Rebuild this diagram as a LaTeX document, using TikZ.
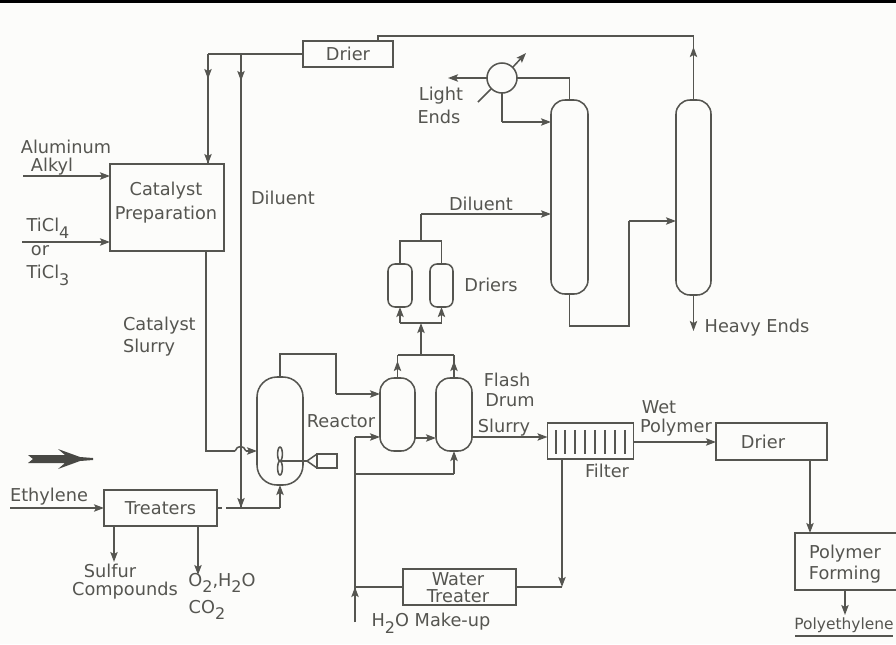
\documentclass[tikz,border=0pt]{standalone}
\usepackage{fontspec}
\setmainfont{DejaVu Sans}
\usetikzlibrary{arrows.meta,shapes.geometric}
\definecolor{ink}{HTML}{555550}
\definecolor{paper}{HTML}{FCFCFA}
\newcommand{\sbs}[1]{\raisebox{-0.7ex}{\fontsize{12}{14}\selectfont #1}}
\tikzset{
  x=0.75pt,y=-0.75pt,
  every node/.style={text=ink,font=\fontsize{13.3}{15}\selectfont,inner sep=0pt,outer sep=0pt},
  line/.style={draw=ink,line width=1.15pt},
  flow/.style={line,-{Stealth[length=7.5pt,width=5.5pt,inset=1.5pt]}},
  dims/.style 2 args={minimum width=#1*0.75pt,minimum height=#2*0.75pt},
  boxn/.style={line,rectangle},
  vessel/.style={line,rectangle,rounded corners=#1*0.75pt},
  blade/.style={line,ellipse,minimum width=3.6pt,minimum height=10.5pt},
}
\begin{document}
\begin{tikzpicture}
\useasboundingbox (0,0) rectangle (896,644);
\fill[paper] (0,0) rectangle (896,644);
\fill[black] (0,0) rectangle (896,3);
% boxes
\node[boxn,dims={90}{26}] (drierT) at (348,54) {Drier};
\node[boxn,dims={114}{87}] (cat) at (167,207.5) {};
\node (catL) at (166,203) [align=center] {Catalyst\\[3pt]Preparation};
\node[boxn,dims={113}{36}] (treat) at (160.5,508) {Treaters};
\node[boxn,dims={113}{36}] (water) at (459.5,587) {};
\node (waterL) at (458,587.5) [align=center] {Water\\[-2.2pt]Treater};
\node[boxn,dims={86}{36}] (filter) at (590.5,441) {};
\node[boxn,dims={111}{37}] (drierB) at (771.5,441.5) {};
\node (drierBL) at (763,442) {Drier};
\node[boxn,dims={102}{57}] (form) at (846,561.5) {};
\node (formL) at (845,564.5) [align=center] {Polymer\\[.7pt]Forming};
% vessels
\node[vessel=20,dims={46}{108}] (reactor) at (280,431) {};
\node[vessel=14,dims={35}{73}] (flashA) at (397.5,414.5) {};
\node[vessel=14,dims={36}{73}] (flashB) at (454,414.5) {};
\node[vessel=14,dims={37}{194}] (colA) at (569.5,197) {};
\node[vessel=14,dims={35}{195}] (colB) at (693.5,197.5) {};
\node[vessel=7,dims={24}{43}] (dryA) at (400,285.5) {};
\node[vessel=7,dims={23}{43}] (dryB) at (441.5,285.5) {};
\node[line,circle,minimum size=30*0.75pt] (hx) at (502,78) {};
% filter bars
\foreach \x in {556,565,575,585,595,605,615,625}
  \draw[line] (\x,430) -- (\x,454);
% impeller
\coordinate (shaft) at (280,461);
\coordinate (neck) at (307,461);
\node[boxn,dims={20}{14},anchor=west] (motor) at (317,461) {};
\draw[line] (shaft) -- (neck) -- (motor.north west);
\draw[line] (neck) -- (motor.south west);
\node[blade] (bladeA) at (280,454) {};
\node[blade] (bladeB) at (280,468) {};
% coordinates
\coordinate (alIn) at (23,176);
\coordinate (tiIn) at (22,242);
\coordinate (ethIn) at (10,508);
\coordinate (topL) at (208,54);
\coordinate (topM) at (241,54);
\coordinate (a1) at (208,79);
\coordinate (a2) at (241,81);
\coordinate (botM) at (241,508);
\coordinate (slU) at (206,251);
\coordinate (slD) at (206,451);
\coordinate (hopA) at (235,451);
\coordinate (hopB) at (246,451);
\coordinate (makeup) at (355,622);
\coordinate (mk) at (355,437);
\coordinate (mkA) at (355,474);
\coordinate (mkW) at (355,587);
% inputs
\draw[flow] (alIn) -- (alIn -| cat.west);
\draw[flow] (tiIn) -- (tiIn -| cat.west);
\draw[flow] (ethIn) -- (ethIn -| treat.west);
% top header
\draw[line] (drierT.west) -- (topL);
\draw[line] (topL) -- (topL |- cat.north);
\draw[flow] (topL) -- (a1);
\draw[flow] (a1) -- (a1 |- cat.north);
\draw[line] (topM) -- (botM);
\draw[flow] (topM) -- (a2);
\draw[flow] (a2) -- (botM);
% catalyst slurry
\draw[line] (slU) -- (slD) -- (hopA);
\draw[line] (hopA) .. controls (237,445) and (244,445) .. (hopB);
\draw[flow] (hopB) -- (hopB -| reactor.west);
% treaters out
\coordinate (tr0) at (222,508);
\draw[line] (treat.east) -- (tr0);
\coordinate (tr1) at (226,508);
\coordinate (tr2) at (280,508);
\draw[line] (tr1) -- (tr2);
\draw[flow] (tr2) -- (reactor.south);
\coordinate (s1) at (114,526);
\coordinate (s1e) at (114,562);
\draw[flow] (s1) -- (s1e);
\coordinate (s2) at (198,526);
\coordinate (s2e) at (198,575);
\draw[flow] (s2) -- (s2e);
% reactor to flash
\coordinate (r1) at (280,354);
\coordinate (r2) at (336,354);
\coordinate (r3) at (336,394);
\draw[line] (reactor.north) -- (r1) -- (r2) -- (r3);
\draw[flow] (r3) -- (r3 -| flashA.west);
% make-up
\draw[line] (makeup) -- (mk);
\draw[flow] (makeup) -- (mkW);
\draw[flow] (mk) -- (mk -| flashA.west);
\draw[line] (mkA) -- (mkA -| flashB.south);
\draw[flow] (mkA -| flashB.south) -- (flashB.south);
\coordinate (fl) at (415,438);
\draw[flow] (fl) -- (fl -| flashB.west);
% flash tops
\coordinate (ft) at (0,355);
\coordinate (ftA) at (0,361);
\draw[line] (flashA.north |- ft) -- (flashB.north |- ft);
\draw[line] (flashA.north) -- (flashA.north |- ft);
\draw[line] (flashB.north) -- (flashB.north |- ft);
\draw[flow] (flashA.north) -- (flashA.north |- ftA);
\draw[flow] (flashB.north) -- (flashB.north |- ftA);
\coordinate (m1) at (421,355);
\coordinate (m2) at (421,323);
\draw[flow] (m1) -- (m2);
% driers
\draw[line] (dryA.south |- m2) -- (dryB.south |- m2);
\draw[flow] (dryA.south |- m2) -- (dryA.south);
\draw[flow] (dryB.south |- m2) -- (dryB.south);
\coordinate (dt) at (0,241);
\draw[line] (dryA.north) -- (dryA.north |- dt) -- (dryB.north |- dt) -- (dryB.north);
\coordinate (d1) at (421,241);
\coordinate (d2) at (421,214);
\draw[line] (d1) -- (d2);
\draw[flow] (d2) -- (d2 -| colA.west);
% column overhead
\coordinate (c1) at (569.5,78);
\draw[line] (colA.north) -- (c1) -- (hx.east);
\coordinate (hx1) at (448,78);
\draw[flow] (hx.west) -- (hx1);
\coordinate (hx2) at (502,122);
\draw[line] (hx.south) -- (hx2);
\draw[flow] (hx2) -- (hx2 -| colA.west);
\coordinate (dg1) at (478,102);
\coordinate (dg2) at (526,53);
\draw[line] (dg1) -- (hx.south west);
\draw[flow] (hx.north east) -- (dg2);
% A bottoms to B
\coordinate (b1) at (569.5,326);
\coordinate (b2) at (629,326);
\coordinate (b3) at (629,221);
\draw[line] (colA.south) -- (b1) -- (b2) -- (b3);
\draw[flow] (b3) -- (b3 -| colB.west);
% B
\coordinate (t1) at (693.5,36);
\coordinate (t2) at (378,36);
\coordinate (t3) at (378,41);
\coordinate (t4) at (693.5,47);
\draw[line] (colB.north) -- (t1) -- (t2) -- (t3);
\draw[flow] (colB.north) -- (t4);
\coordinate (h1) at (693.5,331);
\draw[flow] (colB.south) -- (h1);
% slurry
\coordinate (sl) at (472,437);
\draw[flow] (sl) -- (sl -| filter.west);
\coordinate (wp) at (633,442);
\draw[flow] (wp) -- (wp -| drierB.west);
\coordinate (fd) at (562,459);
\coordinate (fd2) at (562,587);
\draw[flow] (fd) -- (fd2);
\draw[line] (fd2) -- (water.east);
\draw[line] (water.west) -- (mkW);
\coordinate (dd) at (810,460);
\draw[flow] (dd) -- (dd |- form.north);
\coordinate (ff) at (845,590);
\coordinate (ff2) at (845,615);
\draw[flow] (ff) -- (ff2);
\coordinate (u1) at (795,636);
\coordinate (u2) at (893,636);
\draw[draw=ink,line width=1.6pt] (u1) -- (u2);
% big arrow
\fill[ink!85!black] (28,455) -- (65,455) -- (58,449) -- (80,457) -- (93,458) -- (93,460) -- (80,461) -- (58,469) -- (65,463) -- (28,463) -- (33,459) -- cycle;
% labels
\node (lAl) at (66,147) {Aluminum};
\node (lAk) at (52,167) {Alkyl};
\node (lTa) at (48,228) {TiCl\sbs{4}};
\node (lOr) at (40,251) {or};
\node (lTb) at (48,275) {TiCl\sbs{3}};
\node (lDa) at (283,198) {Diluent};
\node[anchor=west] (lCa) at (123,326) {Catalyst};
\node[anchor=west] (lCb) at (123,348) {Slurry};
\node (lLi) at (441,96) {Light};
\node (lEn) at (439,117) {Ends};
\node (lDb) at (481,204) {Diluent};
\node (lDr) at (491,285) {Driers};
\node (lHe) at (757,328) {Heavy Ends};
\node (lFl) at (507,380) {Flash};
\node (lDu) at (510,400) {Drum};
\node (lSl) at (504,428) {Slurry};
\node (lRe) at (341,421) {Reactor};
\node (lWe) at (659,407) {Wet};
\node (lPo) at (676,428) {Polymer};
\node (lFi) at (607,471) {Filter};
\node (lEt) at (49,497) {Ethylene};
\node (lSu) at (110,571) {Sulfur};
\node (lCo) at (125,591) {Compounds};
\node (lOx) at (222,583) {O\sbs{2},H\sbs{2}O};
\node (lCt) at (207,610) {CO\sbs{2}};
\node (lMk) at (431,623) {H\sbs{2}O Make-up};
\node[font=\fontsize{11.6}{13}\selectfont] (lPe) at (844,625) {Polyethylene};
\end{tikzpicture}
\end{document}
